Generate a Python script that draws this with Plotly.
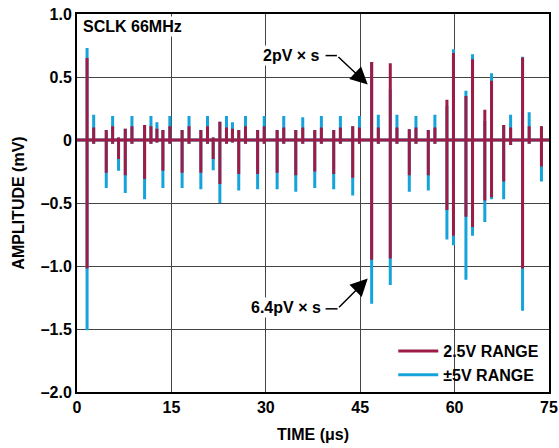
import plotly.graph_objects as go

# glitch times (us) and peak values (mV)
t_glitch = [1.6, 2.65, 4.65, 5.66, 6.6, 7.67, 8.73, 10.74, 11.75, 12.7, 13.65, 14.75,
            16.7, 17.8, 19.68, 20.74, 21.64, 22.7, 23.75, 24.7, 25.7, 26.77, 28.7, 29.75,
            31.8, 32.85, 34.76, 35.87, 37.78, 38.83, 40.79, 41.85, 43.81, 44.88, 46.82, 47.88,
            49.78, 50.84, 52.8, 53.86, 55.82, 56.87, 58.78, 59.82, 61.8, 62.85, 64.8, 65.87,
            67.8, 68.9, 70.8, 71.85, 73.8]
red_max = [0.65, 0.10, 0.08, 0.11, 0.02, 0.09, 0.11, 0.12, 0.11, 0.09, 0.08, 0.11,
           0.08, 0.11, 0.08, 0.11, 0.02, 0.145, 0.10, 0.09, 0.08, 0.11, 0.08, 0.11,
           0.08, 0.10, 0.08, 0.10, 0.08, 0.10, 0.08, 0.10, 0.11, 0.10, 0.62, 0.10,
           0.61, 0.10, 0.085, 0.10, 0.08, 0.10, 0.32, 0.69, 0.35, 0.64, 0.24, 0.47,
           0.12, 0.10, 0.655, 0.11, 0.11]
red_min = [-1.02, -0.03, -0.26, -0.03, -0.15, -0.28, -0.03, -0.31, -0.03, -0.02, -0.245, -0.03,
           -0.26, -0.03, -0.26, -0.03, -0.15, -0.35, -0.03, -0.02, -0.27, -0.03, -0.27, -0.03,
           -0.26, -0.03, -0.28, -0.03, -0.25, -0.03, -0.27, -0.03, -0.30, -0.03, -0.95, -0.03,
           -0.94, -0.03, -0.28, -0.03, -0.28, -0.03, -0.555, -0.76, -0.61, -0.69, -0.48, -0.455,
           -0.33, -0.04, -1.02, -0.03, -0.21]
blue_max = [0.73, 0.20, 0.08, 0.19, 0.02, 0.09, 0.19, 0.12, 0.19, 0.14, 0.08, 0.19,
            0.08, 0.19, 0.08, 0.19, 0.02, 0.145, 0.19, 0.14, 0.08, 0.19, 0.08, 0.19,
            0.08, 0.19, 0.08, 0.18, 0.08, 0.19, 0.08, 0.19, 0.11, 0.19, 0.62, 0.20,
            0.40, 0.20, 0.085, 0.19, 0.08, 0.20, 0.27, 0.72, 0.39, 0.68, 0.15, 0.53,
            0.12, 0.20, 0.66, 0.22, 0.11]
blue_min = [-1.51, -0.03, -0.38, -0.03, -0.245, -0.42, -0.03, -0.47, -0.03, -0.02, -0.38, -0.03,
            -0.38, -0.03, -0.39, -0.03, -0.24, -0.50, -0.03, -0.02, -0.40, -0.03, -0.39, -0.03,
            -0.39, -0.03, -0.41, -0.03, -0.38, -0.03, -0.39, -0.03, -0.44, -0.03, -1.30, -0.03,
            -1.15, -0.03, -0.41, -0.03, -0.40, -0.03, -0.79, -0.835, -1.11, -0.76, -0.65, -0.47,
            -0.47, -0.04, -1.355, -0.03, -0.33]

x_ticks = [0, 15, 30, 45, 60, 75]
y_ticks = [1.0, 0.5, 0, -0.5, -1.0, -1.5, -2.0]
y_ticktext = ["1.0", "0.5", "0", "–0.5", "–1.0", "–1.5", "–2.0"]

RED = "#9C1C45"
BLUE = "#15A3DB"


def trace_xy(tops, bottoms):
    xs, ys = [0], [0]
    for t, hi, lo in zip(t_glitch, tops, bottoms):
        xs += [t, t, t, t]
        ys += [0, hi, lo, 0]
    xs.append(75)
    ys.append(0)
    return xs, ys


bx, by = trace_xy(blue_max, blue_min)
rx, ry = trace_xy(red_max, red_min)

fig = go.Figure()
fig.add_trace(go.Scatter(x=bx, y=by, mode="lines", name="±5V RANGE",
                         line=dict(color=BLUE, width=3)))
fig.add_trace(go.Scatter(x=rx, y=ry, mode="lines", name="2.5V RANGE",
                         line=dict(color=RED, width=3)))

bold = dict(family="Liberation Sans, Arial", size=16, color="black", weight="bold")

# bent leader lines for the callouts
fig.add_shape(type="line", x0=39.5, x1=41.3, y0=0.67, y1=0.67, line=dict(color="black", width=1.5))
fig.add_shape(type="line", x0=39.5, x1=41.4, y0=-1.34, y1=-1.34, line=dict(color="black", width=1.5))

fig.add_annotation(x=34.1, y=0.67, text="2pV × s", showarrow=False, bgcolor="white", font=bold)
fig.add_annotation(x=46.2, y=0.44, ax=41.3, ay=0.67, axref="x", ayref="y", text="",
                   showarrow=True, arrowhead=2, arrowsize=2.3, arrowwidth=1.5, arrowcolor="black")
fig.add_annotation(x=33.2, y=-1.33, text="6.4pV × s", showarrow=False, bgcolor="white", font=bold)
fig.add_annotation(x=46.2, y=-1.10, ax=41.4, ay=-1.34, axref="x", ayref="y", text="",
                   showarrow=True, arrowhead=2, arrowsize=2.3, arrowwidth=1.5, arrowcolor="black")
fig.add_annotation(x=0.008, xref="paper", xanchor="left", y=0.9, text="SCLK 66MHz",
                   showarrow=False, bgcolor="white", font=bold)

fig.update_layout(
    width=559, height=448,
    margin=dict(l=77, r=10, t=14, b=56),
    paper_bgcolor="white", plot_bgcolor="white",
    font=bold,
    showlegend=True,
    legend=dict(x=0.99, xanchor="right", y=0.0, yanchor="bottom",
                traceorder="reversed", bgcolor="rgba(0,0,0,0)", font=bold,
                itemwidth=40, tracegroupgap=0),
)
fig.update_xaxes(range=[0, 75], tickvals=x_ticks, showgrid=True, gridcolor="#444", gridwidth=1,
                 zeroline=False, showline=True, linecolor="black", linewidth=2, mirror=True,
                 ticks="", tickfont=bold, automargin=False,
                 title=dict(text="TIME (μs)", font=bold, standoff=14))
fig.update_yaxes(range=[-2, 1], tickvals=y_ticks, ticktext=y_ticktext, showgrid=True,
                 gridcolor="#444", gridwidth=1, zeroline=False, showline=True, linecolor="black",
                 linewidth=2, mirror=True, ticks="", tickfont=bold, automargin=False,
                 title=dict(text="AMPLITUDE (mV)", font=bold, standoff=12))

fig.write_html("out.html", config={"displayModeBar": False},
               post_script="document.body.style.margin='0';")
